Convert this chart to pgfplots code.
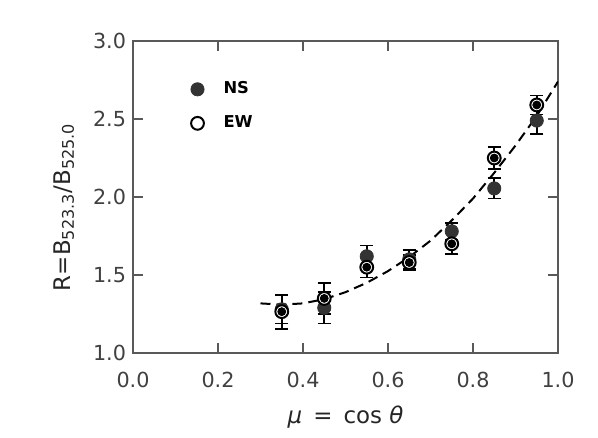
\documentclass[border=0pt]{standalone}
\usepackage{pgfplots}
\pgfplotsset{compat=1.18}
\usepackage{fontspec}
\setmainfont{DejaVu Sans}
\definecolor{frame}{gray}{0.35}
\definecolor{nsfill}{gray}{0.2}

\pgfplotstableread{
x     y      e
0.35  1.28   0.09
0.45  1.29   0.10
0.55  1.62   0.07
0.65  1.60   0.06
0.75  1.78   0.055
0.85  2.055  0.065
0.95  2.49   0.085
}\ns
\pgfplotstableread{
x     y      e
0.35  1.265  0.11
0.45  1.35   0.10
0.55  1.55   0.065
0.65  1.58   0.05
0.75  1.70   0.065
0.85  2.25   0.07
0.95  2.59   0.06
}\ew

\begin{document}
\begin{tikzpicture}
\useasboundingbox (0,0) rectangle (299bp,219bp);
\begin{axis}[
    at={(66.5bp,42.5bp)}, anchor=south west,
    width=212.5bp, height=156bp, scale only axis,
    xmin=0, xmax=1, ymin=1, ymax=3,
    xtick={0,0.2,...,1}, ytick={1,1.5,...,3},
    /pgf/number format/fixed,
    /pgf/number format/fixed zerofill,
    /pgf/number format/precision=1,
    /pgf/number format/assume math mode=true,
    ticklabel style={font=\fontsize{10.4}{12}\selectfont, text=black!75},
    xticklabel style={yshift=-6bp},
    axis line style={frame, line width=0.75bp},
    every tick/.style={frame, line width=0.75bp},
    major tick length=5bp,
    minor tick num=0,
    xlabel={\textit{μ} \,=\, cos \textit{θ}},
    ylabel={R=B\textsubscript{523.3}/B\textsubscript{525.0}},
    label style={font=\fontsize{11.5}{13}\selectfont, text=black!85},
    xlabel style={at={(axis description cs:0.5,0)}, anchor=base, yshift=-35bp},
    ylabel style={at={(axis description cs:-0.148,0.468)}, anchor=base},
    legend style={draw=none, fill=none, at={(axis description cs:0.1156,0.893)}, anchor=north west,
        font=\bfseries\fontsize{8.2}{9.8}\selectfont, row sep=6.5bp,
        nodes={inner sep=1.5bp}},
    legend cell align=left,
    legend image code/.code={\path (-4bp,0) (11bp,0); \draw[#1] plot coordinates {(0bp,0bp)};},
]
\addplot[only marks, mark=*, mark size=3.3bp, draw=nsfill, fill=nsfill,
    error bars/.cd, y dir=both, y explicit,
    error bar style={black, line width=0.8bp},
    error mark options={rotate=90, black, mark size=3.3bp, line width=0.8bp}]
    table[x=x, y=y, y error=e] {\ns};
\addlegendentry{NS}
\addplot[only marks, mark=*, mark size=3.2bp, draw=black, fill=white, line width=1bp]
    table[x=x, y=y] {\ew};
\addlegendentry{EW}
\addplot[forget plot, only marks, mark=none, draw=black,
    error bars/.cd, y dir=both, y explicit,
    error bar style={black, line width=0.8bp},
    error mark options={rotate=90, black, mark size=3.3bp, line width=0.8bp}]
    table[x=x, y=y, y error=e] {\ew};
\addplot[forget plot, black, line width=1bp, dash pattern=on 5bp off 3bp]
    coordinates {
    (0.30,1.318)(0.35,1.31)(0.40,1.318)(0.45,1.345)(0.50,1.39)(0.55,1.45)
    (0.60,1.525)(0.65,1.615)(0.70,1.72)(0.75,1.85)(0.80,1.99)(0.85,2.155)
    (0.90,2.33)(0.95,2.52)(1.00,2.74)
    };
\end{axis}
\end{tikzpicture}
\end{document}
